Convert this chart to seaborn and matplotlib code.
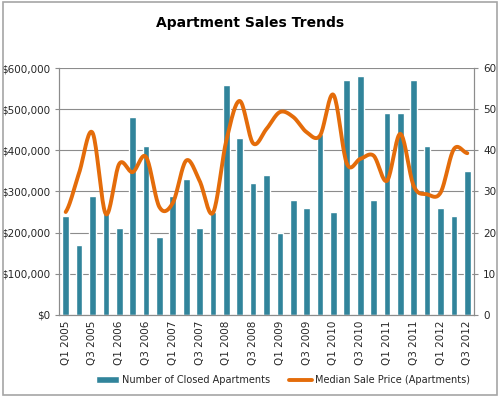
import numpy as np
import pandas as pd
import matplotlib
matplotlib.use("Agg")
import matplotlib.pyplot as plt
import seaborn as sns
from matplotlib.patches import Patch, Rectangle
from matplotlib.lines import Line2D
from matplotlib.ticker import FuncFormatter, MultipleLocator

years = [2005, 2006, 2007, 2008, 2009, 2010, 2011, 2012]
quarters = [f"Q{q} {y}" for y in years for q in range(1, 5)][:31]

closed_apartments = [24, 17, 29, 25, 21, 48, 41, 19,
                     29, 33, 21, 25, 56, 43, 32, 34,
                     20, 28, 26, 44, 25, 57, 58, 28,
                     49, 49, 57, 41, 26, 24, 35]

median_price = [250000, 345000, 443000, 245000, 367000, 347000, 384000, 262000,
                272000, 375000, 326000, 248000, 424000, 520000, 417000, 452000,
                493000, 481000, 444000, 436000, 535000, 368000, 379000, 387000,
                326000, 440000, 313000, 293000, 297000, 403000, 393000]

df = pd.DataFrame({"Quarter": quarters, "Closed": closed_apartments, "Price": median_price})

bar_color = "#31849B"
line_color = "#E46C0A"
text_color = "#262626"


def smooth(y, steps=20):
    # catmull-rom style smoothing like Excel's "smoothed line"
    y = np.asarray(y, dtype=float)
    p = np.concatenate([[y[0]], y, [y[-1]]])
    xs, ys = [], []
    for i in range(len(y) - 1):
        p0, p1, p2, p3 = p[i], p[i + 1], p[i + 2], p[i + 3]
        t = np.linspace(0, 1, steps, endpoint=False)
        yy = 0.5 * ((2 * p1) + (-p0 + p2) * t + (2 * p0 - 5 * p1 + 4 * p2 - p3) * t ** 2
                    + (-p0 + 3 * p1 - 3 * p2 + p3) * t ** 3)
        xs.extend(i + t)
        ys.extend(yy)
    xs.append(len(y) - 1)
    ys.append(y[-1])
    return np.array(xs), np.array(ys)


sns.set_style("white")
plt.rcParams["font.family"] = ["DejaVu Sans"]

fig = plt.figure(figsize=(5, 3.98), dpi=100)
ax2 = fig.add_axes([0.118, 0.209, 0.83, 0.62])   # bars, right axis
ax = ax2.twinx()                                   # price line, left axis

sns.barplot(data=df, x="Quarter", y="Closed", color=bar_color, width=0.5,
            saturation=1, ax=ax2)
ax2.set_ylim(0, 60)
ax2.yaxis.set_major_locator(MultipleLocator(10))
ax2.yaxis.tick_right()
ax2.yaxis.set_label_position("right")
ax2.set_xlim(-0.5, 30.5)
ax2.grid(axis="y", color="#8c8c8c", linewidth=0.8)
ax2.set_axisbelow(True)
ax2.set_xlabel("")
ax2.set_ylabel("")

sx, sy = smooth(df["Price"])
sns.lineplot(x=sx, y=sy, color=line_color, linewidth=2.8, ax=ax, sort=False)
ax.set_ylim(0, 600000)
ax.yaxis.tick_left()
ax.yaxis.set_label_position("left")
ax.yaxis.set_major_locator(MultipleLocator(100000))
ax.yaxis.set_major_formatter(FuncFormatter(lambda v, p: f"${v:,.0f}"))
ax.set_xlim(-0.5, 30.5)

ax2.set_xticks(range(0, 31, 2))
ax2.set_xticklabels([quarters[i] for i in range(0, 31, 2)], rotation=90)
ax2.set_xticks(np.arange(-0.5, 31, 1), minor=True)
ax2.tick_params(axis="x", which="major", length=0, pad=4, labelsize=7.5, labelcolor=text_color)
ax2.tick_params(axis="x", which="minor", length=3, color="#8c8c8c", direction="out")
ax2.tick_params(axis="y", length=3, color="#8c8c8c", labelsize=7.5, direction="out",
                labelcolor=text_color)
ax.tick_params(axis="y", length=3, color="#8c8c8c", labelsize=7.5, direction="out",
               labelcolor=text_color)

for a in (ax, ax2):
    a.spines["top"].set_visible(False)
    for side in ("left", "right", "bottom"):
        a.spines[side].set_color("#8c8c8c")
        a.spines[side].set_linewidth(0.8)

fig.suptitle("Apartment Sales Trends", fontsize=10, fontweight="bold", y=0.96, color="black")

handles = [Patch(facecolor=bar_color), Line2D([0], [0], color=line_color, linewidth=2.8)]
fig.legend(handles, ["Number of Closed Apartments", "Median Sale Price (Apartments)"],
           loc="center left", bbox_to_anchor=(0.185, 0.045), ncol=2, frameon=False,
           fontsize=7, handlelength=2.3, handletextpad=0.3, columnspacing=2,
           borderaxespad=0, labelcolor=text_color)

fig.add_artist(Rectangle((0.006, 0.008), 0.988, 0.986, transform=fig.transFigure,
                         fill=False, edgecolor="#a6a6a6", linewidth=1.2))

fig.savefig("out.png", dpi=100)
